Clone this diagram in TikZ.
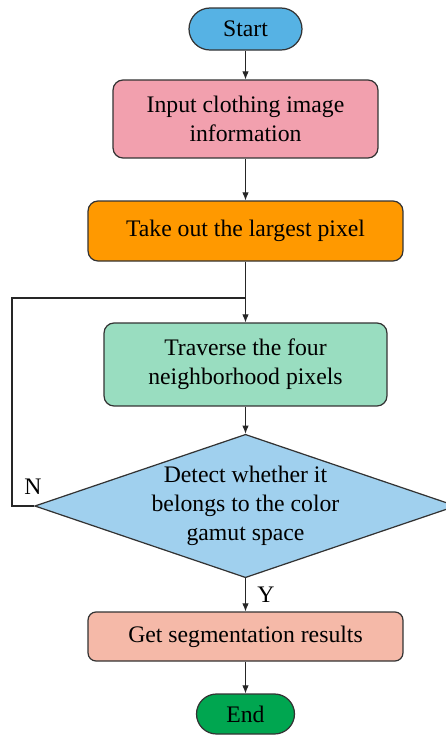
\documentclass[tikz,border=0pt]{standalone}
\usepackage{fontspec}
\setmainfont{Liberation Serif}
\usepackage{tikz}
\usetikzlibrary{arrows.meta}
\usetikzlibrary{shapes.geometric}
\definecolor{startblue}{RGB}{86,178,228}
\definecolor{inputpink}{RGB}{242,160,174}
\definecolor{takeorange}{RGB}{255,153,0}
\definecolor{travgreen}{RGB}{153,221,192}
\definecolor{detectblue}{RGB}{160,208,238}
\definecolor{getsalmon}{RGB}{245,185,168}
\definecolor{endgreen}{RGB}{0,166,80}
\tikzset{
	box/.style={draw=black!80,line width=0.7pt,rounded corners=0.2cm,align=center,font=\fontsize{13.5}{16.5}\selectfont},
	flow/.style={-{Latex[length=1.6mm,width=1.3mm]},line width=0.6pt,black!85},
	lbl/.style={font=\fontsize{13.5}{16.5}\selectfont}
}

\begin{document}
\begin{tikzpicture}[x=0.02cm,y=-0.02cm]
	\useasboundingbox (0,0) rectangle (446,735);
	
	\coordinate (P1) at (245.5,29);
	\coordinate (P2) at (245.5,119);
	\coordinate (P3) at (245.5,231);
	\coordinate (P4) at (245.5,364.5);
	\coordinate (P5) at (245.5,506);
	\coordinate (P6) at (245.5,636.5);
	\coordinate (P7) at (245.5,714);
	\coordinate (J) at (245.5,298);
	\coordinate (L) at (12,506);
	
	\node at (P1) [box,fill=startblue,rounded corners=0.42cm,minimum width=2.26cm,minimum height=0.84cm] (Start) {Start};
	\node at (P2) [box,fill=inputpink,minimum width=5.3cm,minimum height=1.56cm] (Input) {Input clothing image\\information};
	\node at (P3) [box,fill=takeorange,minimum width=6.3cm,minimum height=1.2cm] (Take) {Take out the largest pixel};
	\node at (P4) [box,fill=travgreen,minimum width=5.66cm,minimum height=1.66cm] (Trav) {Traverse the four\\neighborhood pixels};
	\node at (P5) [box,fill=detectblue,shape=diamond,sharp corners,inner sep=0pt,aspect=2.94,minimum width=8.34cm,minimum height=2.84cm] (Detect) {Detect whether it\\belongs to the color\\gamut space};
	\node at (P6) [box,fill=getsalmon,rounded corners=0.16cm,minimum width=6.3cm,minimum height=0.98cm] (Get) {Get segmentation results};
	\node at (P7) [box,fill=endgreen,rounded corners=0.4cm,minimum width=1.96cm,minimum height=0.8cm] (End) {End};
	
	\draw [flow] (Start) -- (Input);
	\draw [flow] (Input) -- (Take);
	\draw [flow] (Take) -- (Trav);
	\draw [flow] (Trav) -- (Detect);
	\draw [flow] (Detect) -- (Get);
	\draw [flow] (Get) -- (End);
	\draw [line width=0.6pt,black!85] (Detect.west) -- (L) |- (J);
	
	\node at (33,487) [lbl] (NLabel) {N};
	\node at (266,595) [lbl] (YLabel) {Y};
\end{tikzpicture}
\end{document}
